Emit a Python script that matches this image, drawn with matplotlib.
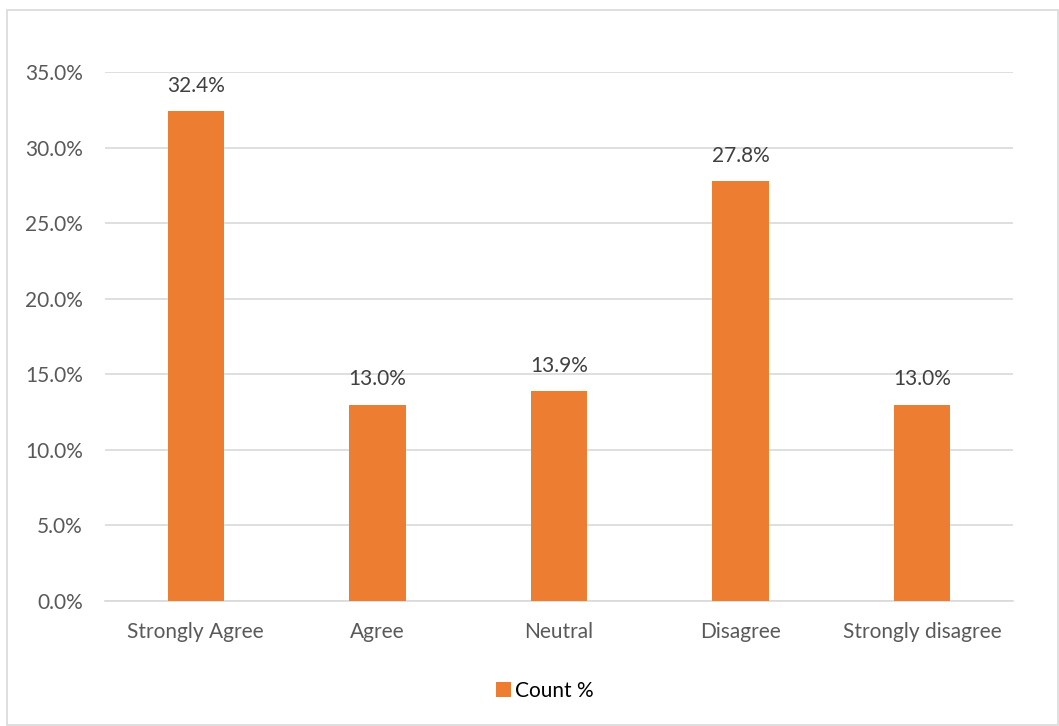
import matplotlib.pyplot as plt
from matplotlib.patches import Rectangle
from matplotlib.ticker import FuncFormatter

# Data
categories = ['Strongly Agree', 'Agree', 'Neutral', 'Disagree', 'Strongly disagree']
count_pct = [32.4, 13.0, 13.9, 27.8, 13.0]
series_name = 'Count %'

C_BAR = '#ED7D31'
C_TXT = '#595959'
C_GRID = '#D9D9D9'
FS = 15

plt.rcParams['font.family'] = ['Lato', 'DejaVu Sans']

fig = plt.figure(figsize=(10.59, 7.26), dpi=100)
ax = fig.add_axes([105 / 1059, 1 - 601 / 726, (1013 - 105) / 1059, (601 - 72) / 726])

x = range(len(categories))
bars = ax.bar(x, count_pct, width=0.31, color=C_BAR, label=series_name, zorder=3)

for b, v in zip(bars, count_pct):
    ax.text(b.get_x() + b.get_width() / 2, v + 1.0, f'{v:.1f}%',
            ha='center', va='bottom', fontsize=FS, color='#404040')

ax.set_xlim(-0.5, len(categories) - 0.5)
ax.set_ylim(0, 35)
ax.set_yticks([0, 5, 10, 15, 20, 25, 30, 35])
ax.yaxis.set_major_formatter(FuncFormatter(lambda v, _: f'{v:.1f}%'))
ax.set_xticks(list(x))
ax.set_xticklabels(categories)
ax.tick_params(axis='both', length=0, labelsize=FS, colors=C_TXT)
ax.tick_params(axis='x', pad=15)
ax.tick_params(axis='y', pad=16)
ax.grid(axis='y', color=C_GRID, linewidth=1.2, zorder=0)
for s in ['top', 'right', 'left']:
    ax.spines[s].set_visible(False)
ax.spines['bottom'].set_color(C_GRID)
ax.spines['bottom'].set_linewidth(1.2)

fig.legend(handles=[bars], labels=[series_name], loc='center',
           bbox_to_anchor=(545 / 1059, 1 - 691 / 726), frameon=False,
           fontsize=FS, handlelength=0.7, handleheight=0.7, handletextpad=0.2,
           labelcolor='black')

# outer chart border
fig.patches.append(Rectangle((7 / 1059, 1 / 726), 1051 / 1059, 715 / 726,
                             transform=fig.transFigure, fill=False,
                             edgecolor=C_GRID, linewidth=1.2))

fig.savefig('out.png', dpi=100)
